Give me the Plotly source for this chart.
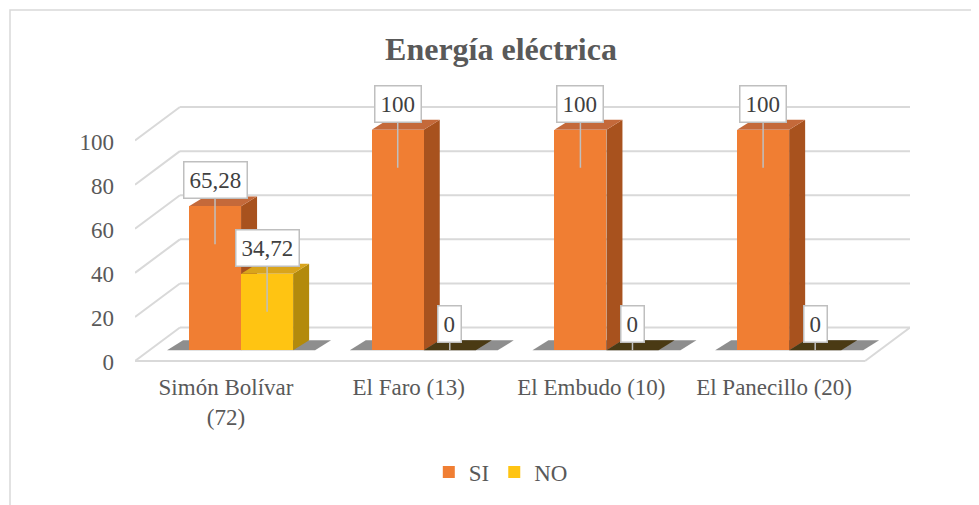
import plotly.graph_objects as go

# data
barrios = ["Simón Bolívar<br>(72)", "El Faro (13)", "El Embudo (10)", "El Panecillo (20)"]
si = [65.28, 100, 100, 100]
no = [34.72, 0, 0, 0]
si_text = ["65,28", "100", "100", "100"]
no_text = ["34,72", "0", "0", "0"]
y_ticks = [0, 20, 40, 60, 80, 100]

pos = list(range(len(barrios)))

# fake 3d look
w = 0.285
off_si = -0.2025
off_no = off_si + w
dx = 0.0876  # depth, x units
dy = 4.5     # depth, y units
back = 10.3  # back wall above bar level
front = 4.9  # front floor below bar level
x_min, x_max = -0.498, 3.744
x_wall = x_min + 0.246

serif = "Liberation Serif, Times New Roman, serif"

fig = go.Figure()
fig.add_trace(go.Bar(x=pos, y=si, name="SI", width=w, offset=off_si,
                     marker=dict(color="#f07e33", line=dict(width=0))))
fig.add_trace(go.Bar(x=pos, y=no, name="NO", width=w, offset=off_no,
                     marker=dict(color="#ffc412", line=dict(width=0))))

shapes = []
grid = "#d9d9d9"
for t in y_ticks:
    shapes.append(dict(type="line", x0=x_wall, x1=x_max, y0=t + back, y1=t + back,
                       line=dict(color=grid, width=2), layer="below"))
    shapes.append(dict(type="line", x0=x_min, x1=x_wall, y0=t - front, y1=t + back,
                       line=dict(color=grid, width=2), layer="below"))
shapes.append(dict(type="line", x0=x_min, x1=x_max - 0.246, y0=-front, y1=-front,
                   line=dict(color=grid, width=2), layer="below"))
shapes.append(dict(type="line", x0=x_max - 0.246, x1=x_max, y0=-front, y1=back,
                   line=dict(color=grid, width=2), layer="below"))

def faces(x0, v, side, top):
    x1 = x0 + w
    out = []
    out.append(dict(type="path", layer="below", line=dict(width=0), fillcolor=side,
                    path=f"M {x1} 0 L {x1} {v} L {x1+dx} {v+dy} L {x1+dx} {dy} Z"))
    out.append(dict(type="path", layer="below", line=dict(width=0), fillcolor=top,
                    path=f"M {x0} {v} L {x1} {v} L {x1+dx} {v+dy} L {x0+dx} {v+dy} Z"))
    return out

for i in pos:
    # floor shadow
    gl = i + off_si
    shapes.append(dict(type="path", layer="below", line=dict(width=0),
                       fillcolor="rgba(50,50,50,0.55)",
                       path=f"M {gl-0.12} 0 L {gl+2*w+0.12} 0 L {gl+2*w+0.12+dx} {dy} L {gl-0.12+dx} {dy} Z"))
    shapes += faces(i + off_si, si[i], "#a8521e", "#c4693a")
    shapes += faces(i + off_no, no[i], "#b38a0c" if no[i] > 0 else "#4a3a14",
                    "#d9a41c" if no[i] > 0 else "#4a3a14")

# chart border
shapes.append(dict(type="rect", xref="paper", yref="paper", x0=-0.1613, x1=1.2,
                   y0=-0.7, y1=1.337, line=dict(color="#d9d9d9", width=1.5)))

annotations = []
for i in pos:
    for off, vals, txt in ((off_si, si, si_text), (off_no, no, no_text)):
        v = vals[i]
        annotations.append(dict(
            x=i + off + w / 2, y=v, text=txt[i], showarrow=True,
            arrowhead=0, arrowwidth=1.5, arrowcolor="#bfbfbf",
            ax=0, ay=-64 if v > 0 else -26, yshift=-38 if v > 0 else 0,
            bgcolor="white", bordercolor="#bfbfbf", borderwidth=1.5, borderpad=5,
            font=dict(family=serif, size=23, color="#404040")))

# page has an 8px body margin, so the figure is 8px smaller and shifted
fig.update_layout(
    width=971, height=497,
    margin=dict(l=127, r=69, t=92, b=135),
    paper_bgcolor="white", plot_bgcolor="white",
    title=dict(text="<b>Energía eléctrica</b>", x=0.5077, xanchor="center",
               y=0.917, yanchor="middle",
               font=dict(family=serif, size=32, color="#595959")),
    font=dict(family=serif, size=23, color="#595959"),
    showlegend=True,
    legend=dict(orientation="h", x=0.472, xanchor="center", y=-0.393, yanchor="middle",
                font=dict(family=serif, size=23, color="#595959"), itemwidth=30),
    shapes=shapes,
    annotations=annotations,
    bargap=0,
)
fig.update_xaxes(range=[x_min, x_max], tickvals=pos, ticktext=barrios,
                 showgrid=False, zeroline=False, showline=False, ticks="",
                 ticklabelstandoff=4, automargin=False,
                 tickfont=dict(family=serif, size=23, color="#595959"))
fig.update_yaxes(range=[-7.6, 113.5], tickvals=y_ticks, showgrid=False,
                 zeroline=False, showline=False, ticks="", ticklabelstandoff=20,
                 ticklabelshift=12, automargin=False,
                 tickfont=dict(family=serif, size=23, color="#595959"))

fig.write_html("out.html")
